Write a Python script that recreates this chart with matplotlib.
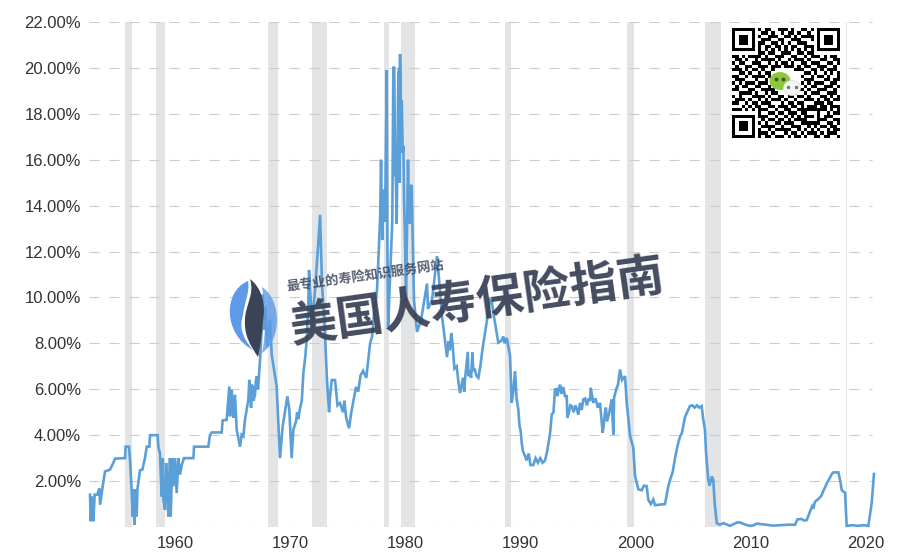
import matplotlib
matplotlib.use('Agg')
import matplotlib.pyplot as plt
import numpy as np
from matplotlib.patches import Ellipse, PathPatch
from matplotlib.path import Path

years = [1952.62,1952.68,1952.79,1952.91,1953.02,1953.25,1953.43,1953.49,1953.72,1953.92,1954.35,1954.64,1954.79,1955.66,1955.71,1956.0,1956.09,1956.23,1956.32,1956.38,1956.47,1956.52,1956.67,1956.73,1956.96,1957.16,1957.39,1957.54,1957.77,1957.83,1958.49,1958.55,1958.69,1958.84,1958.93,1958.98,1959.13,1959.22,1959.33,1959.42,1959.56,1959.62,1959.77,1959.85,1960.0,1960.14,1960.29,1960.43,1960.58,1960.78,1961.59,1961.65,1962.89,1963.03,1963.18,1964.05,1964.13,1964.48,1964.71,1964.77,1964.92,1965.06,1965.2,1965.35,1965.64,1965.78,1965.93,1966.07,1966.36,1966.45,1966.56,1966.74,1966.94,1967.09,1967.38,1967.52,1967.61,1967.72,1967.84,1968.01,1968.24,1968.39,1968.82,1969.11,1969.34,1969.75,1969.92,1970.12,1970.27,1970.85,1971.14,1971.43,1971.57,1971.63,1971.89,1972.15,1972.41,1972.59,1972.76,1972.93,1973.19,1973.37,1973.45,1973.6,1973.89,1974.1,1974.32,1974.58,1974.7,1974.84,1975.1,1975.3,1975.71,1976.32,1976.93,1977.53,1977.8,1977.88,1977.99,1978.05,1978.17,1978.23,1978.38,1978.43,1978.49,1978.66,1978.86,1978.95,1979.03,1979.1,1979.17,1979.24,1979.38,1979.47,1979.5,1979.53,1979.62,1979.68,1979.76,1979.82,1979.88,1979.96,1980.05,1980.22,1980.34,1980.4,1980.54,1980.63,1980.74,1981.0,1981.35,1981.87,1981.96,1982.31,1982.74,1983.0,1983.18,1983.61,1983.98,1984.45,1984.74,1985.17,1985.41,1985.47,1985.81,1985.9,1986.33,1986.91,1987.34,1987.63,1988.06,1988.79,1989.08,1989.22,1989.35,1989.51,1989.65,1989.8,1990.09,1990.38,1991.1,1992.12,1992.55,1992.98,1993.42,1994.0,1994.05,1994.43,1995.0,1995.44,1996.02,1996.08,1996.31,1996.89,1997.12,1997.32,1997.5,1997.9,1998.05,1998.11,1998.63,1999.06,1999.21,1999.5,1999.78,1999.93,2000.22,2000.94,2001.08,2001.52,2001.66,2002.53,2002.82,2002.97,2003.4,2003.83,2004.27,2004.7,2005.71,2006.0,2006.29,2006.72,2007.02,2007.59,2008.17,2009.04,2009.91,2010.78,2011.9,2013.82,2014.02,2014.83,2015.12,2015.55,2016.13,2016.57,2017.14,2017.58,2017.87,2018.16,2018.3,2020.18,2020.47,2020.67]
rates = [1.41,0.25,1.33,0.25,1.41,1.41,1.68,0.97,1.77,2.42,2.5,2.79,2.98,3.0,3.5,3.5,2.93,1.63,0.46,1.63,0.1,1.63,0.46,1.63,2.47,2.5,3.0,3.5,3.5,4.0,4.0,3.5,3.2,1.33,3.0,1.26,0.75,2.79,1.77,0.46,3.0,0.46,3.0,1.77,3.0,1.48,3.0,2.28,2.71,3.0,3.0,3.5,3.5,4.0,4.12,4.12,4.64,4.67,6.12,4.82,5.98,4.75,5.76,4.24,3.5,4.02,3.95,4.67,5.54,6.41,5.69,6.12,5.76,6.56,7.29,8.59,10.12,8.59,9.6,7.87,9.03,7.5,6.12,3.0,4.38,5.69,5.11,3.0,4.24,5.18,6.71,8.16,9.75,11.2,8.9,10.3,12.2,13.6,10.5,9.3,6.4,5.0,5.66,6.4,6.4,5.3,5.4,5.0,5.5,4.8,4.3,5.0,6.1,6.8,8.0,10.3,13.4,16.0,12.5,14.1,14.7,13.3,19.9,12.5,8.7,10.8,13.4,20.05,20.0,15.4,15.2,13.2,19.8,20.0,15.0,20.6,17.6,18.6,16.3,16.6,14.2,12.5,9.8,16.0,13.2,14.8,14.9,12.5,9.9,8.5,9.0,10.6,9.5,9.9,11.8,10.3,9.15,7.4,8.45,7.0,5.84,6.43,7.63,6.57,7.6,6.79,6.5,8.46,9.9,9.33,8.03,8.24,7.45,5.41,5.85,6.79,5.6,5.1,3.67,3.1,2.7,2.9,4.06,5.99,6.2,5.7,4.76,5.27,4.9,5.56,5.49,6.07,5.41,5.41,4.1,4.97,4.6,5.56,4.03,5.63,6.86,6.57,5.41,3.96,3.45,2.22,1.64,1.78,1.19,1.2,0.95,1.0,1.78,2.05,3.0,3.93,4.8,5.27,5.27,4.22,2.05,2.05,0.17,0.17,0.05,0.2,0.05,0.13,0.06,0.1,0.33,0.3,0.67,1.1,1.39,1.9,2.38,2.38,1.61,1.5,0.05,0.05,1.03,2.31]

# finer wiggles
detail_years = [1966.6,1966.65,1966.8,1967.0,1967.2,1970.5,1970.6,1970.7,1971.0,1971.3,1975.9,1976.1,1976.6,1977.1,1977.3,1983.75,1983.85,1984.1,1984.25,1984.6,1985.0,1985.1,1985.6,1985.7,1986.0,1986.15,1986.5,1986.7,1987.1,1987.5,1988.3,1988.5,1988.6,1989.9,1990.0,1990.2,1990.5,1990.7,1990.85,1991.3,1991.5,1991.7,1991.9,1992.3,1992.7,1992.85,1993.1,1993.2,1993.3,1993.55,1993.7,1993.85,1994.2,1994.3,1994.6,1994.75,1994.9,1995.15,1995.3,1995.6,1995.75,1995.9,1996.5,1996.7,1997.2,1997.4,1997.7,1998.3,1998.45,1998.8,2000.5,2000.7,2001.3,2003.2,2003.6,2004.0,2004.45,2004.9,2005.1,2005.3,2005.5,2005.85,2006.1,2006.2,2006.4,2006.6,2006.85,2007.3,2008.6,2008.8,2009.4,2010.2,2010.5,2011.3,2012.5,2013.2,2014.4,2014.6,2015.3,2015.4,2015.8,2016.0,2016.3,2016.45,2016.8,2017.0,2017.75,2018.0,2018.8,2019.3,2019.8]
detail_rates = [5.2,6.2,5.5,6.3,6.0,4.6,5.0,4.7,5.5,7.4,5.9,6.6,6.5,8.3,9.4,8.1,7.7,7.9,6.9,6.3,6.5,5.9,6.8,6.5,6.9,6.6,7.0,7.8,9.1,9.8,8.1,8.3,8.0,4.4,4.2,3.3,2.9,3.2,2.7,3.0,2.8,3.0,2.8,3.3,4.9,5.0,6.0,5.7,6.0,5.8,6.1,5.7,5.0,5.3,5.0,5.3,5.1,5.4,5.1,5.6,5.3,5.6,5.6,5.2,4.4,5.2,5.0,6.0,6.2,6.4,1.6,1.8,1.0,2.4,3.5,4.1,5.0,5.3,5.2,5.3,5.2,4.7,3.2,2.6,1.8,2.2,1.0,0.1,0.15,0.2,0.12,0.07,0.15,0.1,0.08,0.1,0.35,0.28,0.9,0.8,1.2,1.3,1.6,1.75,2.1,2.3,2.0,1.55,0.08,0.05,0.08]

rec_start = [1955.66,1958.35,1968.07,1971.89,1978.14,1979.62,1988.64,1999.23,2006.0,2018.24]
rec_end = [1956.27,1959.13,1968.94,1973.19,1978.57,1980.83,1989.16,1999.84,2007.39,2018.33]

ytick_vals = [2,4,6,8,10,12,14,16,18,20,22]
xtick_vals = [1960,1970,1980,1990,2000,2010,2020]

qr_rows = [
"111111101011001110100110101111111",
"100000100110100101101001001000001",
"101110101001110011010111101011101",
"101110100111001100111000101011101",
"101110101100110101001110001011101",
"100000101011011010110011101000001",
"111111101010101010101010101111111",
"000000001101100111001101100000000",
"110101111010011100110010111010110",
"011010010111101001011101000110011",
"101100111001010110100110111001101",
"010011001110111011101011001110010",
"111010110100100000011100110101110",
"001101001011000000000011010010101",
"110010111101000000000100101101001",
"011100010010000000000011100011011",
"101011101110000000000101011100110",
"010110011001000000000010110011101",
"110001100111100000001101001110010",
"001111010010110000010010111001110",
"101000111101001101101101000110101",
"011101001010111010010011101011011",
"110010110111000101101100011101100",
"000101011001101110110101110110111",
"111010101110010011001111111110101",
"000000001001101101110110001001011",
"111111101110010010101011101011100",
"100000100101101101011110001110011",
"101110101010011011100111111001101",
"101110100111100100111001010110110",
"101110101001011111001010101001011",
"100000101110100010110101110101110",
"111111101011011101011010011011001",
]

all_years = np.array(years + detail_years)
all_rates = np.array(rates + detail_rates)
order = np.argsort(all_years)

fig = plt.figure(figsize=(9, 5.57), dpi=100, facecolor='w')
ax = fig.add_axes([89/900, 1-527/557, (875-89)/900, (527-22)/557])
ax.set_xlim(1952.53, 2020.76)
ax.set_ylim(0, 22)
for s in ax.spines.values():
    s.set_visible(False)

for a, b in zip(rec_start, rec_end):
    ax.axvspan(a, b, color='#e3e4e6', lw=0, zorder=1)
ax.hlines([0] + ytick_vals, 1952.53, 2020.5, color='#cccccc', lw=0.8, linestyle=(0, (9, 9)), zorder=2)
ax.plot(all_years[order], all_rates[order], color='#5b9fd8', lw=1.9, solid_joinstyle='miter', zorder=3, clip_on=False)

ax.set_yticks(ytick_vals)
ax.set_yticklabels(['%.2f%%' % v for v in ytick_vals])
ax.set_xticks(xtick_vals)
ax.tick_params(length=0, labelsize=12, labelcolor='#333333', labelfontfamily='Liberation Sans')
ax.tick_params(axis='y', pad=5.8)
ax.tick_params(axis='x', pad=6.5)

# overlay in pixel coordinates for the watermark and qr code
ov = fig.add_axes([0, 0, 1, 1], zorder=5)
ov.set_xlim(0, 900)
ov.set_ylim(557, 0)
ov.axis('off')
ov.patch.set_alpha(0)

def curve_patch(pts, **kw):
    codes = [Path.MOVETO] + [Path.CURVE4] * (len(pts) - 1)
    return PathPatch(Path(pts, codes), lw=0, **kw)

ov.add_patch(curve_patch([(248, 281), (222, 292), (224, 335), (253, 350),
                          (240, 335), (240, 325), (243, 315),
                          (245, 300), (250, 292), (248, 281)], facecolor='#5f9ae8'))
ov.add_patch(curve_patch([(262, 287), (282, 300), (282, 340), (262, 353),
                          (266, 335), (266, 310), (262, 287)], facecolor='#5f9ae8', alpha=0.8))
ov.add_patch(curve_patch([(250, 279), (262, 288), (266, 305), (263, 320),
                          (262, 335), (260, 350), (258, 357),
                          (250, 345), (244, 335), (245, 320),
                          (245, 305), (255, 295), (250, 279)], facecolor='#3b4358'))

ov.text(477, 301, '美国人寿保险指南', family=['Noto Sans CJK SC', 'DejaVu Sans'], fontsize=34, fontweight='black',
        color='#3b4358', rotation=8, ha='center', va='center', alpha=0.95, rotation_mode='anchor')
ov.text(365, 276, '最专业的寿险知识服务网站', family=['Noto Sans CJK SC', 'DejaVu Sans'], fontsize=9.5, fontweight='bold',
        color='#3b4358', rotation=8, ha='center', va='center', alpha=0.85, rotation_mode='anchor')

qr = np.array([[int(c) for c in r] for r in qr_rows])
ov.imshow(1 - qr, cmap='gray', extent=(732, 840, 138, 28), interpolation='nearest', aspect='auto', zorder=6, vmin=0, vmax=1)
ov.set_xlim(0, 900)
ov.set_ylim(557, 0)
ov.add_patch(Ellipse((780, 81), 21, 18, color='#8cc83c', lw=0, zorder=7))
ov.add_patch(Ellipse((792, 88), 17, 15, facecolor='#f4f4f4', edgecolor='#dddddd', lw=0.5, zorder=8))
ov.plot([776, 783], [79, 79], 'o', color='#3c5a1e', ms=1.8, zorder=9)
ov.plot([788, 796], [87, 87], 'o', color='#777777', ms=1.5, zorder=9)

fig.savefig('out.png', dpi=100)
